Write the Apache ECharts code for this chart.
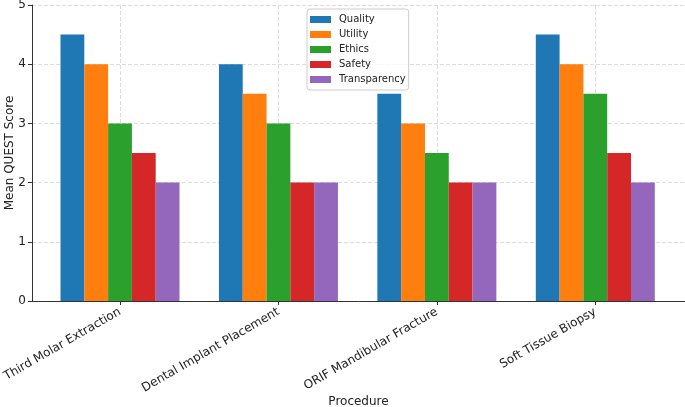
<!DOCTYPE html>
<html>
<head>
<meta charset="utf-8">
<script src="https://cdn.jsdelivr.net/npm/echarts@6/dist/echarts.min.js"></script>
<style>
  html, body { margin: 0; padding: 0; background: #fff; }
  #chart { width: 685px; height: 407px; }
</style>
</head>
<body>
<div id="chart"></div>
<script>
const procedures = ["Third Molar Extraction", "Dental Implant Placement", "ORIF Mandibular Fracture", "Soft Tissue Biopsy"];
const quality = [4.5, 4, 3.5, 4.5];
const utility = [4, 3.5, 3, 4];
const ethics = [3, 3, 2.5, 3.5];
const safety = [2.5, 2, 2, 2.5];
const transparency = [2, 2, 2, 2];
const yTicks = [0, 1, 2, 3, 4, 5];

const myChart = echarts.init(document.getElementById("chart"));
const font = "DejaVu Sans";
const colors = ["#1f77b4", "#ff7f0e", "#2ca02c", "#d62728", "#9467bd"];

function bar(name, data) {
  return {
    name: name,
    type: "bar",
    xAxisIndex: 1,
    yAxisIndex: 1,
    data: data,
    barWidth: 23.8,
    barGap: "0%",
    clip: false,
  };
}

const option = {
  color: colors,
  animation: false,
  textStyle: { fontFamily: font },
  grid: [
    { left: 32, width: 653, top: 5, bottom: 106, outerBoundsMode: "none" },
    { left: 120, width: 475.3, top: 5, bottom: 106, outerBoundsMode: "none" },
  ],
  legend: {
    orient: "vertical",
    left: 307,
    top: 9,
    padding: [4, 3, 4, 3],
    itemWidth: 21,
    itemHeight: 7,
    itemGap: 2,
    icon: "rect",
    borderColor: "#cccccc",
    borderWidth: 1,
    borderRadius: 3,
    backgroundColor: "rgba(255,255,255,0.8)",
    textStyle: { fontFamily: font, fontSize: 10, lineHeight: 13, color: "#222", padding: [0, 0, 0, 3] },
    data: ["Quality", "Utility", "Ethics", "Safety", "Transparency"],
  },
  xAxis: [
    {
      gridIndex: 0,
      type: "value",
      min: 0,
      max: 1,
      name: "Procedure",
      nameLocation: "middle",
      nameGap: 95,
      nameMoveOverlap: false,
      nameTextStyle: { fontFamily: font, fontSize: 12, color: "#222" },
      axisLine: { show: true, lineStyle: { color: "#333", width: 1 } },
      axisTick: { show: false },
      axisLabel: { show: false },
      splitLine: { show: false },
    },
    {
      gridIndex: 1,
      type: "category",
      data: procedures,
      boundaryGap: false,
      axisLine: { show: false },
      axisTick: { show: true, length: 4, lineStyle: { color: "#333" } },
      axisLabel: {
        rotate: 30,
        margin: 10,
        fontFamily: font,
        fontSize: 12,
        color: "#222",
        interval: 0,
      },
      splitLine: { show: true, lineStyle: { color: "#dcdcdc", type: "dashed", width: 1 } },
    },
  ],
  yAxis: [
    {
      gridIndex: 0,
      type: "value",
      min: yTicks[0],
      max: yTicks[yTicks.length - 1],
      interval: 1,
      name: "Mean QUEST Score",
      nameLocation: "middle",
      nameGap: 16,
      nameMoveOverlap: false,
      nameTextStyle: { fontFamily: font, fontSize: 12, color: "#222" },
      axisLine: { show: true, lineStyle: { color: "#333", width: 1 } },
      axisTick: { show: true, length: 4, lineStyle: { color: "#333" } },
      axisLabel: { fontFamily: font, fontSize: 12, color: "#222", margin: 6 },
      splitLine: { show: true, lineStyle: { color: "#dcdcdc", type: "dashed", width: 1 } },
    },
    {
      gridIndex: 1,
      type: "value",
      min: yTicks[0],
      max: yTicks[yTicks.length - 1],
      interval: 1,
      show: false,
      splitLine: { show: false },
    },
  ],
  series: [
    bar("Quality", quality),
    bar("Utility", utility),
    bar("Ethics", ethics),
    bar("Safety", safety),
    bar("Transparency", transparency),
  ],
};
myChart.setOption(option);
</script>
</body>
</html>
